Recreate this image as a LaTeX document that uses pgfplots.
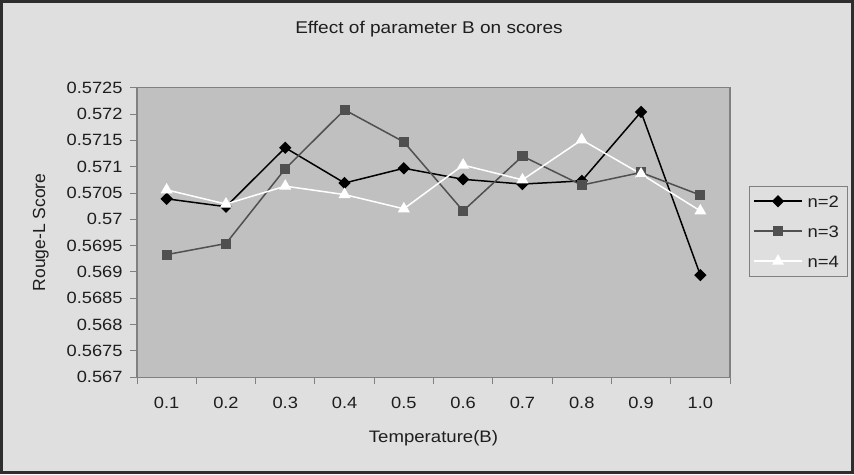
\documentclass[border=0pt]{standalone}
\usepackage{fontspec}
\usepackage{pgfplots}
\pgfplotsset{compat=1.18}
\setmainfont[FakeStretch=1.12]{Liberation Sans}
\newfontfamily\uprightsans{Liberation Sans}

\definecolor{chartbg}{RGB}{223,223,223}
\definecolor{plotbg}{RGB}{192,192,192}
\definecolor{framecol}{RGB}{46,46,46}
\definecolor{axiscol}{RGB}{128,128,128}
\definecolor{seriesthree}{RGB}{80,80,80}
\definecolor{textcol}{RGB}{30,30,30}

\begin{document}
\begin{tikzpicture}[x=1pt,y=1pt]
  \useasboundingbox (0,0) rectangle (854,474);
  \fill[chartbg] (0,0) rectangle (854,474);
  \draw[framecol, line width=3pt] (1.5,1.5) rectangle (852.5,472.5);
  \begin{axis}[
    at={(137pt,96.7pt)}, anchor=south west,
    scale only axis, width=593pt, height=289.6pt,
    xmin=0.5, xmax=10.5, ymin=0.567, ymax=0.5725,
    axis background/.style={fill=plotbg},
    axis line style={draw=axiscol, line width=1.2pt},
    tick align=outside, major tick length=7pt, minor tick length=7pt,
    tick style={draw=axiscol, line width=1pt},
    xtick pos=left, ytick pos=left,
    xtick={1,2,3,4,5,6,7,8,9,10},
    xticklabels={0.1,0.2,0.3,0.4,0.5,0.6,0.7,0.8,0.9,1.0},
    major x tick style={draw=none},
    minor xtick={0.5,1.5,2.5,3.5,4.5,5.5,6.5,7.5,8.5,9.5,10.5},
    ytick={0.567,0.5675,0.568,0.5685,0.569,0.5695,0.57,0.5705,0.571,0.5715,0.572,0.5725},
    yticklabels={0.567,0.5675,0.568,0.5685,0.569,0.5695,0.57,0.5705,0.571,0.5715,0.572,0.5725},
    /pgf/number format/assume math mode=true,
    ticklabel style={font=\fontsize{16.3}{19}\selectfont, text=textcol},
    xticklabel style={yshift=-9pt},
    yticklabel style={xshift=-4pt},
    title={Effect of parameter B on scores},
    title style={at={(axis description cs:0.4924,1.1824)}, anchor=center,
      font=\fontsize{17}{20}\selectfont, text=textcol},
    xlabel={Temperature(B)},
    xlabel style={at={(axis description cs:0.5,-0.21)}, anchor=center,
      font=\fontsize{16.6}{20}\selectfont, text=textcol},
    ylabel={Rouge-L Score},
    ylabel style={at={(axis description cs:-0.162,0.5)}, anchor=center,
      font=\uprightsans\fontsize{17.5}{20}\selectfont, text=textcol},
    legend style={
      at={(axis description cs:1.032,0.6616)}, anchor=north west,
      draw=axiscol, line width=1pt, fill=chartbg,
      inner xsep=4pt, inner ysep=9pt, row sep=18pt,
      font=\fontsize{16.5}{19}\selectfont, text=textcol,
      nodes={inner xsep=5pt, inner ysep=0pt, text height=12pt, text depth=0pt},
    },
    legend cell align=left,
    legend image code/.code={
      \draw[mark repeat=2, mark phase=2, #1]
        plot coordinates {(0pt,0pt) (23.8pt,0pt) (47.6pt,0pt)};
    },
  ]
    % n = 2
    \addplot[black, line width=1.5pt, mark=square*,
      mark options={rotate=45, solid, fill=black}, mark size=3.6pt]
      coordinates {
        (1,0.57039) (2,0.57024) (3,0.57136) (4,0.57069) (5,0.57097)
        (6,0.57076) (7,0.57067) (8,0.57073) (9,0.57204) (10,0.56894)
      };
    \addlegendentry{n=2}
    % n = 3
    \addplot[seriesthree, line width=1.5pt, mark=square*,
      mark options={solid, fill=seriesthree}, mark size=4.3pt]
      coordinates {
        (1,0.56933) (2,0.56954) (3,0.57096) (4,0.57208) (5,0.57147)
        (6,0.57016) (7,0.57120) (8,0.57065) (9,0.57089) (10,0.57046)
      };
    \addlegendentry{n=3}
    % n = 4
    \addplot[white, line width=1.5pt, mark=triangle*,
      mark options={solid, fill=white}, mark size=5.5pt]
      coordinates {
        (1,0.57056) (2,0.57029) (3,0.57063) (4,0.57047) (5,0.57020)
        (6,0.57103) (7,0.57075) (8,0.57151) (9,0.57086) (10,0.57016)
      };
    \addlegendentry{n=4}
  \end{axis}
\end{tikzpicture}
\end{document}
